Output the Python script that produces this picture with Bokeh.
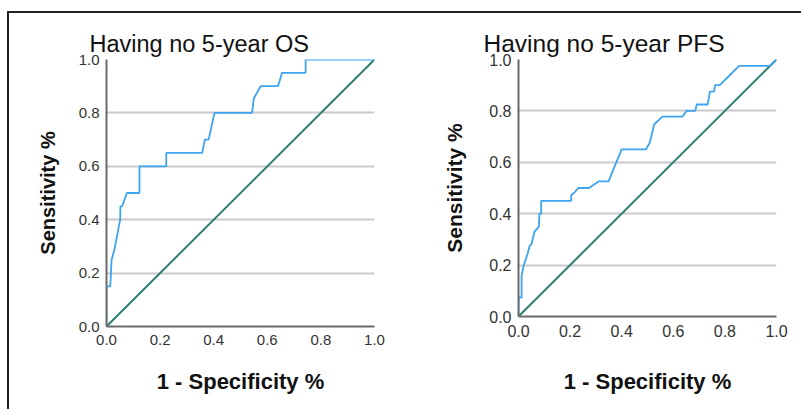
from bokeh.plotting import figure
from bokeh.layouts import row
from bokeh.models import Range1d, FixedTicker, NumeralTickFormatter
from bokeh.embed import file_html
from bokeh.resources import INLINE

# ---- data ----
os_fpr = [0.0, 0.0, 0.014, 0.019, 0.030, 0.051, 0.052, 0.058, 0.076, 0.123, 0.123,
          0.223, 0.223, 0.357, 0.367, 0.381, 0.403, 0.543, 0.550, 0.575, 0.640,
          0.655, 0.743, 0.743, 1.0]
os_tpr = [0.0, 0.15, 0.15, 0.25, 0.29, 0.40, 0.45, 0.45, 0.50, 0.50, 0.60,
          0.60, 0.65, 0.65, 0.70, 0.70, 0.80, 0.80, 0.855, 0.90, 0.90,
          0.95, 0.95, 1.0, 1.0]

pfs_fpr = [0.0, 0.0, 0.012, 0.012, 0.019, 0.035, 0.043, 0.050, 0.062, 0.079,
           0.081, 0.088, 0.088, 0.204, 0.204, 0.218, 0.232, 0.273, 0.312, 0.349,
           0.371, 0.400, 0.494, 0.509, 0.526, 0.558, 0.636, 0.651, 0.685, 0.691,
           0.733, 0.742, 0.758, 0.762, 0.780, 0.810, 0.855, 0.975, 1.0]
pfs_tpr = [0.0, 0.074, 0.074, 0.157, 0.195, 0.243, 0.274, 0.281, 0.330, 0.350,
           0.400, 0.400, 0.450, 0.450, 0.472, 0.484, 0.500, 0.500, 0.526, 0.526,
           0.580, 0.650, 0.650, 0.677, 0.748, 0.778, 0.778, 0.800, 0.800, 0.825,
           0.825, 0.875, 0.875, 0.900, 0.900, 0.930, 0.975, 0.975, 1.0]

ref_x = [0.0, 1.0]
ref_y = [0.0, 1.0]
tick_values = [0.0, 0.2, 0.4, 0.6, 0.8, 1.0]
titles = ["Having no 5-year OS", "Having no 5-year PFS"]
x_label = "1 - Specificity %"
y_label = "Sensitivity %"

FONT = "Liberation Sans"
CURVE = "#3ea4f0"
DIAG = "#2d7f74"


def make_panel(title, fx, fy, fw, fh, bl, br, bt, bb, toff, tsize, lsize,
               xstand, ystand, ylsize):
    p = figure(frame_width=fw, frame_height=fh,
               min_border_left=bl, min_border_right=br,
               min_border_top=bt, min_border_bottom=bb,
               x_range=Range1d(0, 1), y_range=Range1d(0, 1),
               output_backend="svg", toolbar_location=None,
               background_fill_color="white", border_fill_color="white")
    p.outline_line_color = None
    p.title.text = title
    p.title.text_font = FONT
    p.title.text_font_size = tsize
    p.title.text_font_style = "normal"
    p.title.text_color = "#111111"
    p.title.align = "left"
    p.title.offset = toff
    p.title.standoff = 6

    for ax in (p.xaxis[0], p.yaxis[0]):
        ax.ticker = FixedTicker(ticks=tick_values)
        ax.formatter = NumeralTickFormatter(format="0.0")
        ax.major_tick_out = 0
        ax.major_tick_in = 0
        ax.minor_tick_out = 0
        ax.minor_tick_in = 0
        ax.axis_line_color = "#6a6a6a"
        ax.axis_line_width = 2
        ax.major_label_text_font = FONT
        ax.major_label_text_font_size = lsize
        ax.major_label_text_color = "#333333"
        ax.axis_label_text_font = FONT
        ax.axis_label_text_font_style = "bold"
        ax.axis_label_text_color = "#111111"
    p.xaxis.axis_label = x_label
    p.yaxis.axis_label = y_label
    p.xaxis.axis_label_text_font_size = "22px"
    p.yaxis.axis_label_text_font_size = ylsize
    p.xaxis.major_label_standoff = 8
    p.yaxis.major_label_standoff = 7
    p.xaxis.axis_label_standoff = xstand
    p.yaxis.axis_label_standoff = ystand

    p.xgrid.grid_line_color = None
    p.ygrid.ticker = FixedTicker(ticks=tick_values[1:])
    p.ygrid.grid_line_color = "#c9c9c9"
    p.ygrid.grid_line_width = 2

    p.line(ref_x, ref_y, line_color=DIAG, line_width=2)
    p.line(fx, fy, line_color=CURVE, line_width=1.8)
    return p


p1 = make_panel(titles[0], os_fpr, os_tpr, 268, 267, 97, 25, 44, 85, -17,
                "23.5px", "15px", 21, 17, "20px")
p2 = make_panel(titles[1], pfs_fpr, pfs_tpr, 258, 257, 119, 25, 46, 93, -35,
                "24.5px", "16px", 29, 20, "21px")

layout = row(p1, p2, spacing=0,
             styles={"border-top": "2px solid #222222",
                     "border-left": "2px solid #222222",
                     "margin-top": "11px",
                     "margin-left": "7px"})

open("out.html", "w").write(file_html(layout, INLINE))
